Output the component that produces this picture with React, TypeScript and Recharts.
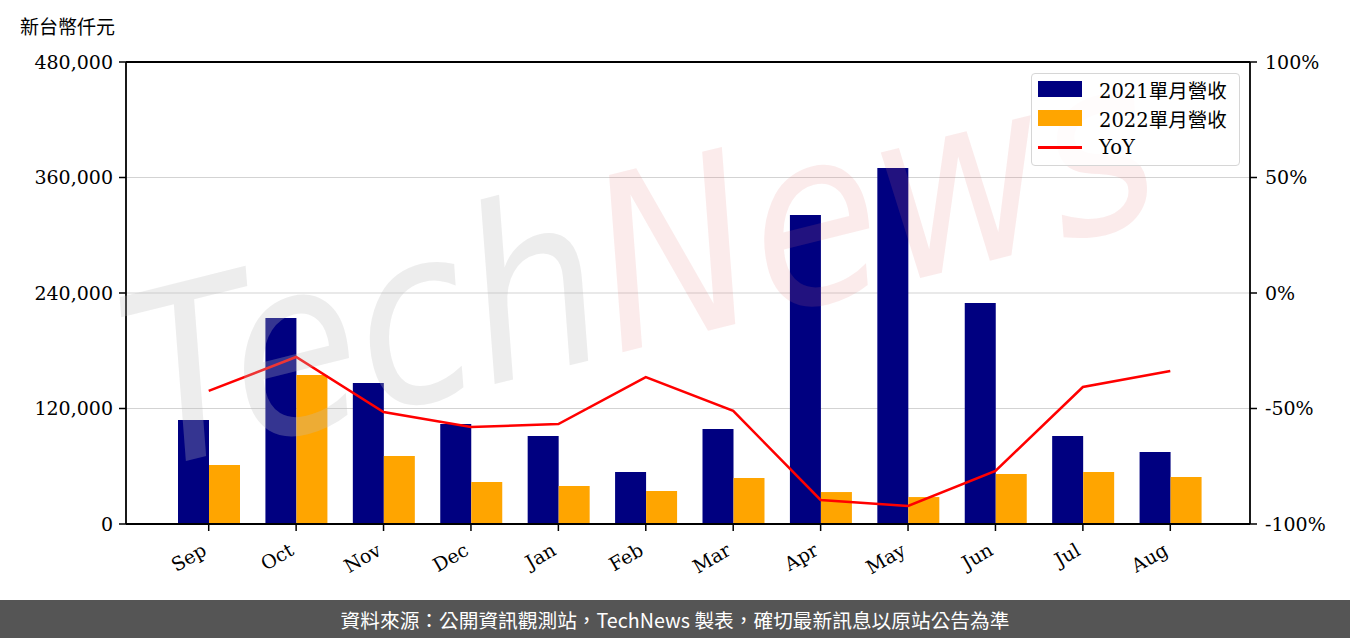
import React from 'react';
import { ComposedChart, Bar, Line, XAxis, YAxis, CartesianGrid, ReferenceLine } from 'recharts';

const months = ['Sep', 'Oct', 'Nov', 'Dec', 'Jan', 'Feb', 'Mar', 'Apr', 'May', 'Jun', 'Jul', 'Aug'];
const rev2021 = [108000, 214000, 146500, 103900, 91400, 54000, 98700, 321000, 369900, 229600, 91400, 74800];
const rev2022 = [61300, 154800, 70600, 43600, 39500, 34300, 47800, 33200, 28000, 51900, 54000, 48800];
const yoy = [-42.4, -27.7, -51.5, -58.0, -56.7, -36.4, -51.0, -89.6, -92.2, -77.0, -40.7, -33.8];
const leftTicks = [0, 120000, 240000, 360000, 480000];
const rightTicks = [-100, -50, 0, 50, 100];

const series2021 = '2021單月營收';
const series2022 = '2022單月營收';
const seriesYoY = 'YoY';

const data = months.map((m, i) => ({ month: m, a: rev2021[i], b: rev2022[i], yoy: yoy[i] }));

const SERIF = '"DejaVu Serif", "Noto Sans CJK TC", serif';
const CJK = '"Noto Sans CJK TC", "Noto Sans", sans-serif';

const XTick = (props: any) => {
  const { x, y, payload } = props;
  const tx = x - 1;
  const ty = y + 21;
  return (
    <text x={tx} y={ty} transform={`rotate(-30 ${tx} ${ty})`} textAnchor="end" fontFamily={SERIF} fontSize={19} fill="#000">
      {payload.value}
    </text>
  );
};

export default function App() {
  return (
    <div style={{ position: 'absolute', left: 0, top: 0, width: 1350, height: 638, background: '#fff', overflow: 'hidden' }}>
      <div style={{ position: 'absolute', left: 20, top: 13, fontFamily: CJK, fontSize: 19, color: '#000', lineHeight: '26px' }}>新台幣仟元</div>
      <div style={{ position: 'absolute', left: 0, top: 0 }}>
        <ComposedChart width={1350} height={600} data={data} margin={{ top: 62, right: 0, bottom: 16, left: 0 }} barGap={0}>
          <CartesianGrid yAxisId="left" vertical={false} stroke="#d3d3d3" strokeWidth={1.2} />
          <XAxis
            dataKey="month"
            padding={{ left: 39, right: 36 }}
            tick={<XTick />}
            tickLine={{ stroke: '#000', strokeWidth: 1.5 }}
            tickSize={7}
            axisLine={{ stroke: '#000', strokeWidth: 1.8 }}
            height={60}
            interval={0}
          />
          <YAxis
            yAxisId="left"
            orientation="left"
            width={126}
            domain={[0, 480000]}
            ticks={leftTicks}
            tickFormatter={(v: number) => v.toLocaleString('en-US')}
            tick={{ fontFamily: SERIF, fontSize: 19, fill: '#000' }}
            tickLine={{ stroke: '#000', strokeWidth: 1.5 }}
            tickSize={7}
            tickMargin={6}
            axisLine={{ stroke: '#000', strokeWidth: 1.8 }}
          />
          <YAxis
            yAxisId="right"
            orientation="right"
            width={100}
            domain={[-100, 100]}
            ticks={rightTicks}
            tickFormatter={(v: number) => `${v}%`}
            tick={{ fontFamily: SERIF, fontSize: 19, fill: '#000' }}
            tickLine={{ stroke: '#000', strokeWidth: 1.5 }}
            tickSize={7}
            tickMargin={8}
            axisLine={{ stroke: '#000', strokeWidth: 1.8 }}
          />
          <ReferenceLine yAxisId="left" y={480000} stroke="#000" strokeWidth={1.8} />
          <Bar yAxisId="left" dataKey="a" name={series2021} fill="#000080" barSize={31} isAnimationActive={false} />
          <Bar yAxisId="left" dataKey="b" name={series2022} fill="#FFA500" barSize={31} isAnimationActive={false} />
          <Line yAxisId="right" dataKey="yoy" name={seriesYoY} stroke="#FF0000" strokeWidth={2.5} dot={false} type="linear" isAnimationActive={false} />
        </ComposedChart>
      </div>
      <svg width={1350} height={600} style={{ position: 'absolute', left: 0, top: 0, pointerEvents: 'none' }}>
        <g transform="rotate(-14 150 470)">
          <text x={150} y={470} fontFamily='"DejaVu Sans", sans-serif' fontStyle="italic" fontSize={240} textLength={1050} lengthAdjust="spacingAndGlyphs">
            <tspan fill="rgb(190,190,190)" fillOpacity={0.28}>Tech</tspan>
            <tspan fill="rgb(225,120,120)" fillOpacity={0.15}>News</tspan>
          </text>
        </g>
      </svg>
      <div style={{ position: 'absolute', left: 1031, top: 73, width: 209, height: 93, border: '1.5px solid #d6d6d6', borderRadius: 4, background: 'rgba(255,255,255,0.85)', boxSizing: 'border-box' }}>
        {[
          { label: series2021, color: '#000080', kind: 'rect' },
          { label: series2022, color: '#FFA500', kind: 'rect' },
          { label: seriesYoY, color: '#FF0000', kind: 'line' },
        ].map((it, i) => (
          <div key={i} style={{ position: 'absolute', left: 6, top: 3 + i * 29, height: 24, display: 'flex', alignItems: 'center' }}>
            <div style={{ width: 44, height: 24, display: 'flex', alignItems: 'center' }}>
              {it.kind === 'rect' ? (
                <div style={{ width: 44, height: 16, background: it.color }} />
              ) : (
                <div style={{ width: 44, height: 3, background: it.color }} />
              )}
            </div>
            <span style={{ marginLeft: 17, fontFamily: SERIF, fontSize: 19.5, color: '#000', whiteSpace: 'nowrap' }}>{it.label}</span>
          </div>
        ))}
      </div>
      <div style={{ position: 'absolute', left: 0, top: 600, width: 1350, height: 38, background: '#555555', color: '#fff', fontFamily: CJK, fontSize: 19.7, display: 'flex', alignItems: 'center', justifyContent: 'center' }}>
        資料來源：公開資訊觀測站，TechNews 製表，確切最新訊息以原站公告為準
      </div>
    </div>
  );
}
